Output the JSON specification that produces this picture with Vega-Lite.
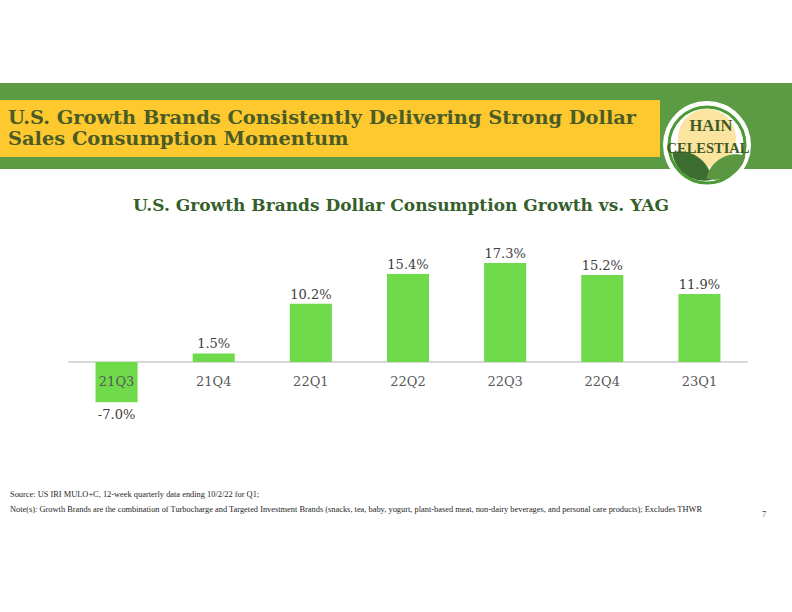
{
  "$schema": "https://vega.github.io/schema/vega-lite/v6.json",
  "background": "white",
  "padding": {"top": 83, "left": 0, "right": 0, "bottom": 0},
  "config": {
    "view": {"stroke": null},
    "concat": {"spacing": 0},
    "font": "DejaVu Serif",
    "locale": {"number": {"decimal": ".", "thousands": ",", "grouping": [3], "currency": ["$", ""], "minus": "-"}}
  },
  "spacing": 8,
  "vconcat": [
    {
      "spacing": 0,
      "hconcat": [
        {
          "bounds": "flush",
          "spacing": 0,
          "vconcat": [
            {"width": 660, "height": 17, "view": {"fill": "#5b9b43", "stroke": null}, "data": {"values": [{}]}, "mark": {"type": "text", "text": ""}},
            {
              "width": 660, "height": 57,
              "view": {"fill": "#fdc92f", "stroke": null},
              "data": {"values": [
                {"line": "1", "text": "U.S. Growth Brands Consistently Delivering Strong Dollar"},
                {"line": "2", "text": "Sales Consumption Momentum"}
              ]},
              "mark": {"type": "text", "align": "left", "baseline": "middle", "dx": 8, "font": "DejaVu Serif", "fontWeight": "bold", "fontSize": 19.4, "color": "#4a5b26"},
              "encoding": {
                "x": {"datum": 0, "type": "quantitative", "scale": {"domain": [0, 1]}, "axis": null},
                "y": {"field": "line", "type": "ordinal", "scale": {"type": "point", "padding": 0.857}, "axis": null},
                "text": {"field": "text"}
              }
            },
            {"width": 660, "height": 12, "view": {"fill": "#5b9b43", "stroke": null}, "data": {"values": [{}]}, "mark": {"type": "text", "text": ""}}
          ]
        },
        {
          "width": 94, "height": 86,
          "view": {"fill": "#5b9b43", "stroke": null},
          "data": {"values": [{}]},
          "layer": [
            {"mark": {"type": "point", "shape": "circle", "filled": true, "color": "white", "opacity": 1, "size": 7744, "yOffset": 19}},
            {"mark": {"type": "point", "shape": "circle", "filled": false, "color": "#4c9a34", "strokeWidth": 3, "opacity": 1, "size": 5776, "yOffset": 19}},
            {"mark": {"type": "point", "shape": "circle", "filled": true, "color": "#fbe3a0", "opacity": 1, "size": 3364, "yOffset": 12}},
            {"mark": {"type": "point", "shape": "M -1 0 C -0.5 -0.6 0.5 -0.6 1 0 C 0.5 0.6 -0.5 0.6 -1 0 Z", "filled": true, "color": "#3d6e2f", "opacity": 1, "size": 2300, "angle": 35, "xOffset": -15, "yOffset": 40}},
            {"mark": {"type": "point", "shape": "M -1 0 C -0.5 -0.6 0.5 -0.6 1 0 C 0.5 0.6 -0.5 0.6 -1 0 Z", "filled": true, "color": "#5b9640", "opacity": 1, "size": 2000, "angle": -30, "xOffset": 19, "yOffset": 41}},
            {"mark": {"type": "text", "text": "HAIN", "font": "Liberation Serif", "fontWeight": "bold", "fontSize": 16.5, "color": "#3e5a24", "baseline": "middle", "dx": 4, "dy": 0}},
            {"mark": {"type": "text", "text": "CELESTIAL", "font": "Liberation Serif", "fontWeight": "bold", "fontSize": 14.5, "color": "#3e5a24", "baseline": "middle", "dx": 1, "dy": 23}}
          ]
        },
        {"width": 38, "height": 86, "view": {"fill": "#5b9b43", "stroke": null}, "data": {"values": [{}]}, "mark": {"type": "text", "text": ""}}
      ]
    },
    {
      "spacing": 2,
      "vconcat": [
        {
          "bounds": "flush",
          "spacing": 0,
          "hconcat": [
            {"width": 68, "height": 257, "data": {"values": [{}]}, "mark": {"type": "text", "text": ""}},
            {
              "width": 680, "height": 257,
              "title": {"text": "U.S. Growth Brands Dollar Consumption Growth vs. YAG", "font": "DejaVu Serif", "fontSize": 17, "fontWeight": "bold", "color": "#355f2b", "anchor": "middle", "frame": "group", "dx": -7, "offset": 16},
              "data": {"values": [
                {"quarter": "21Q3", "growth": -0.070},
                {"quarter": "21Q4", "growth": 0.015},
                {"quarter": "22Q1", "growth": 0.102},
                {"quarter": "22Q2", "growth": 0.154},
                {"quarter": "22Q3", "growth": 0.173},
                {"quarter": "22Q4", "growth": 0.152},
                {"quarter": "23Q1", "growth": 0.119}
              ]},
              "layer": [
                {
                  "mark": {"type": "rule", "color": "#d9d9d9", "strokeWidth": 1.5},
                  "encoding": {"y": {"datum": 0, "type": "quantitative", "scale": {"domain": [-0.22, 0.229], "nice": false}, "axis": null}}
                },
                {
                  "mark": {"type": "bar", "color": "#6fdb4a"},
                  "encoding": {
                    "x": {"field": "quarter", "type": "nominal", "sort": null, "scale": {"paddingInner": 0.567, "paddingOuter": 0.2835}, "axis": null},
                    "y": {"field": "growth", "type": "quantitative", "axis": null}
                  }
                },
                {
                  "mark": {"type": "text", "baseline": "middle", "dy": 19.5, "fontSize": 13, "color": "#595959"},
                  "encoding": {
                    "x": {"field": "quarter", "type": "nominal", "sort": null},
                    "y": {"datum": 0, "type": "quantitative"},
                    "text": {"field": "quarter"}
                  }
                },
                {
                  "transform": [{"filter": "datum.growth >= 0"}],
                  "mark": {"type": "text", "baseline": "alphabetic", "dy": -5, "fontSize": 13, "color": "#404040"},
                  "encoding": {
                    "x": {"field": "quarter", "type": "nominal", "sort": null},
                    "y": {"field": "growth", "type": "quantitative"},
                    "text": {"field": "growth", "type": "quantitative", "format": ".1%"}
                  }
                },
                {
                  "transform": [{"filter": "datum.growth < 0"}],
                  "mark": {"type": "text", "baseline": "top", "dy": 7, "fontSize": 13, "color": "#404040"},
                  "encoding": {
                    "x": {"field": "quarter", "type": "nominal", "sort": null},
                    "y": {"field": "growth", "type": "quantitative"},
                    "text": {"field": "growth", "type": "quantitative", "format": ".1%"}
                  }
                }
              ]
            }
          ]
        },
        {
          "width": 792, "height": 15,
          "layer": [
            {
              "data": {"values": [
                {"line": "s", "text": "Source: US IRI MULO+C, 12-week quarterly data ending 10/2/22 for Q1;"},
                {"line": "n", "text": "Note(s): Growth Brands are the combination of  Turbocharge and Targeted Investment Brands (snacks, tea, baby, yogurt, plant-based meat, non-dairy beverages, and personal care products); Excludes THWR"}
              ]},
              "mark": {"type": "text", "align": "left", "baseline": "middle", "dx": 10, "fontSize": 8.4, "font": "Liberation Serif", "color": "#262626"},
              "encoding": {
                "x": {"datum": 0, "type": "quantitative", "scale": {"domain": [0, 1]}, "axis": null},
                "y": {"field": "line", "type": "ordinal", "scale": {"type": "point", "padding": 0, "domain": ["s", "n"]}, "axis": null},
                "text": {"field": "text"}
              }
            },
            {
              "data": {"values": [{"line": "n", "text": "7"}]},
              "mark": {"type": "text", "align": "center", "baseline": "middle", "dx": -28, "dy": 5, "fontSize": 8.5, "font": "Liberation Serif", "color": "#404040"},
              "encoding": {
                "x": {"datum": 1, "type": "quantitative"},
                "y": {"field": "line", "type": "ordinal"},
                "text": {"field": "text"}
              }
            }
          ]
        }
      ]
    }
  ]
}
